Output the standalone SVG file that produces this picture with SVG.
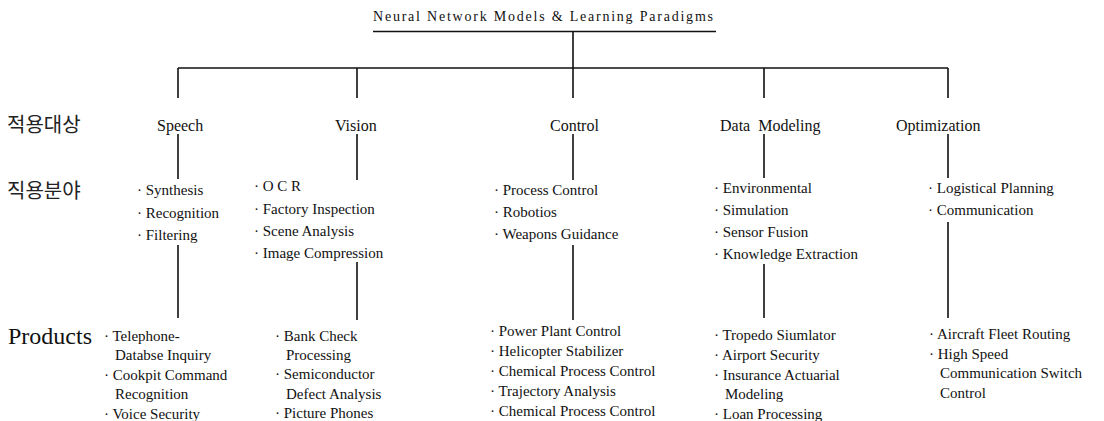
<svg xmlns="http://www.w3.org/2000/svg" width="1104" height="421" viewBox="0 0 1104 421">
<style>
.t{font-family:"Liberation Serif","Times New Roman",serif;fill:#111;}
.it{font-size:15px;}
.hd{font-size:16px;}
.ko{font-family:"Noto Sans CJK KR",sans-serif;font-size:20px;fill:#222;}
.pr{font-size:24px;}
.ln{stroke:#111;stroke-width:1.6;fill:none;}
</style>
<rect width="1104" height="421" fill="#fff"/>
<g id="connectors">
<path class="ln" d="M373 31.5H716 M573 31.5V68 M178 68H948 M178 68V98 M357 68V98 M573 68V98 M764 68V98 M948 68V98"/>
<path class="ln" d="M178 134V179 M357 134V180 M573 134V180 M764 134V178 M948 134V178"/>
<path class="ln" d="M178 245V318 M357 262V320 M573 245V320 M764 264V318 M948 222V318"/>
</g>
<g id="title"><text class="t" x="373" y="21" font-size="14" textLength="340" lengthAdjust="spacing">Neural Network Models &amp; Learning Paradigms</text></g>
<g id="row-labels">
<text class="ko" x="7" y="132">적용대상</text>
<text class="ko" x="7" y="198">직용분야</text>
<text class="t pr" x="8" y="344">Products</text>
</g>
<g id="speech" class="t">
<text class="hd" x="157" y="131">Speech</text>
<text class="it" x="137" y="195">· Synthesis</text>
<text class="it" x="137" y="218">· Recognition</text>
<text class="it" x="137" y="240">· Filtering</text>
<text class="it" x="104" y="341">· Telephone-</text>
<text class="it" x="115" y="360">Databse Inquiry</text>
<text class="it" x="104" y="380">· Cookpit Command</text>
<text class="it" x="115" y="399">Recognition</text>
<text class="it" x="104" y="419">· Voice Security</text>
</g>
<g id="vision" class="t">
<text class="hd" x="335" y="131">Vision</text>
<text class="it" x="254" y="191">· O C R</text>
<text class="it" x="254" y="214">· Factory Inspection</text>
<text class="it" x="254" y="236">· Scene Analysis</text>
<text class="it" x="254" y="258">· Image Compression</text>
<text class="it" x="275" y="341">· Bank Check</text>
<text class="it" x="286" y="360">Processing</text>
<text class="it" x="275" y="379">· Semiconductor</text>
<text class="it" x="286" y="399">Defect Analysis</text>
<text class="it" x="275" y="418">· Picture Phones</text>
</g>
<g id="control" class="t">
<text class="hd" x="550" y="131">Control</text>
<text class="it" x="494" y="195">· Process Control</text>
<text class="it" x="494" y="217">· Robotios</text>
<text class="it" x="494" y="239">· Weapons Guidance</text>
<text class="it" x="490" y="336">· Power Plant Control</text>
<text class="it" x="490" y="356">· Helicopter Stabilizer</text>
<text class="it" x="490" y="376">· Chemical Process Control</text>
<text class="it" x="490" y="396">· Trajectory Analysis</text>
<text class="it" x="490" y="416">· Chemical Process Control</text>
</g>
<g id="data-modeling" class="t">
<text class="hd" x="720" y="131" xml:space="preserve">Data  Modeling</text>
<text class="it" x="714" y="193">· Environmental</text>
<text class="it" x="714" y="215">· Simulation</text>
<text class="it" x="714" y="237">· Sensor Fusion</text>
<text class="it" x="714" y="259">· Knowledge Extraction</text>
<text class="it" x="714" y="340">· Tropedo Siumlator</text>
<text class="it" x="714" y="360">· Airport Security</text>
<text class="it" x="714" y="380">· Insurance Actuarial</text>
<text class="it" x="725" y="399">Modeling</text>
<text class="it" x="714" y="419">· Loan Processing</text>
</g>
<g id="optimization" class="t">
<text class="hd" x="896" y="131">Optimization</text>
<text class="it" x="928" y="193">· Logistical Planning</text>
<text class="it" x="928" y="215">· Communication</text>
<text class="it" x="929" y="339">· Aircraft Fleet Routing</text>
<text class="it" x="929" y="359">· High Speed</text>
<text class="it" x="940" y="378">Communication Switch</text>
<text class="it" x="940" y="398">Control</text>
</g>
</svg>
